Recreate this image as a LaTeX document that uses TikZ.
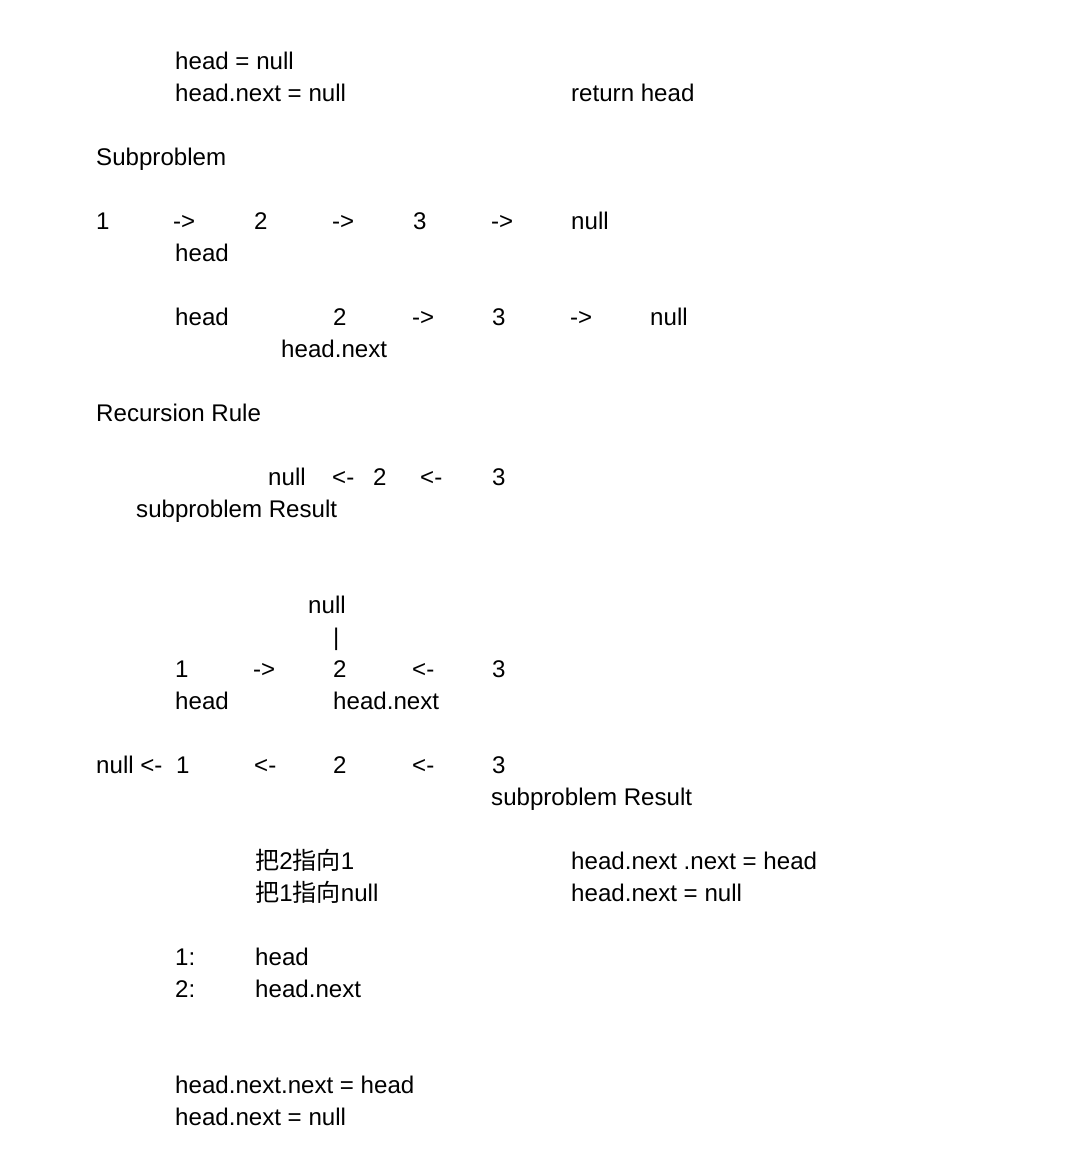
\documentclass[tikz,border=0pt]{standalone}
\usepackage{fontspec}
\setmainfont{Liberation Sans}
\newfontfamily\cjk{Noto Sans CJK SC}
\begin{document}
\begin{tikzpicture}[x=1pt,y=-1pt,
  txt/.style={anchor=base west,inner sep=0pt,font=\fontsize{24.1}{28}\selectfont}]
\useasboundingbox[fill=white] (0,0) rectangle (1078,1150);
\def\b{8.6}
\node[txt] (t1) at (175,61+\b) {head = null};
\node[txt] (t2) at (175,93+\b) {head.next = null};
\node[txt] (t3) at (571,93+\b) {return head};
\node[txt] (t4) at (96,157+\b) {Subproblem};
% row 221
\node[txt] (r1a) at (96,221+\b) {1};
\node[txt] (r1b) at (173,221+\b) {->};
\node[txt] (r1c) at (254,221+\b) {2};
\node[txt] (r1d) at (332,221+\b) {->};
\node[txt] (r1e) at (413,221+\b) {3};
\node[txt] (r1f) at (491,221+\b) {->};
\node[txt] (r1g) at (571,221+\b) {null};
\node[txt] (r1h) at (175,253+\b) {head};
% row 317
\node[txt] (r2a) at (175,317+\b) {head};
\node[txt] (r2b) at (333,317+\b) {2};
\node[txt] (r2c) at (412,317+\b) {->};
\node[txt] (r2d) at (492,317+\b) {3};
\node[txt] (r2e) at (570,317+\b) {->};
\node[txt] (r2f) at (650,317+\b) {null};
\node[txt] (r2g) at (281,349+\b) {head.next};
\node[txt] (t5) at (96,413+\b) {Recursion Rule};
% row 477
\node[txt] (r3a) at (268,477+\b) {null};
\node[txt] (r3b) at (332,477+\b) {<-};
\node[txt] (r3c) at (373,477+\b) {2};
\node[txt] (r3d) at (420,477+\b) {<-};
\node[txt] (r3e) at (492,477+\b) {3};
\node[txt] (r3f) at (136,509+\b) {subproblem Result};
% null over 2
\node[txt] (r4n) at (308,605+\b) {null};
\node[txt] (r4p) at (333,637+\b) {|};
\node[txt] (r4a) at (175,669+\b) {1};
\node[txt] (r4b) at (253,669+\b) {->};
\node[txt] (r4c) at (333,669+\b) {2};
\node[txt] (r4d) at (412,669+\b) {<-};
\node[txt] (r4e) at (492,669+\b) {3};
\node[txt] (r4f) at (175,701+\b) {head};
\node[txt] (r4g) at (333,701+\b) {head.next};
% row 765
\node[txt] (r5a) at (96,765+\b) {null <-};
\node[txt] (r5b) at (176,765+\b) {1};
\node[txt] (r5c) at (254,765+\b) {<-};
\node[txt] (r5d) at (333,765+\b) {2};
\node[txt] (r5e) at (412,765+\b) {<-};
\node[txt] (r5f) at (492,765+\b) {3};
\node[txt] (r5g) at (491,797+\b) {subproblem Result};
% chinese
\node[txt] (c1) at (255,861+\b) {\cjk 把\fontspec{Liberation Sans}2\cjk 指向\fontspec{Liberation Sans}1};
\node[txt] (c2) at (255,893+\b) {\cjk 把\fontspec{Liberation Sans}1\cjk 指向\fontspec{Liberation Sans}null};
\node[txt] (c3) at (571,861+\b) {head.next .next = head};
\node[txt] (c4) at (571,893+\b) {head.next = null};
\node[txt] (d1) at (175,957+\b) {1:};
\node[txt] (d2) at (255,957+\b) {head};
\node[txt] (d3) at (175,989+\b) {2:};
\node[txt] (d4) at (255,989+\b) {head.next};
\node[txt] (e1) at (175,1085+\b) {head.next.next = head};
\node[txt] (e2) at (175,1117+\b) {head.next = null};
\end{tikzpicture}
\end{document}
